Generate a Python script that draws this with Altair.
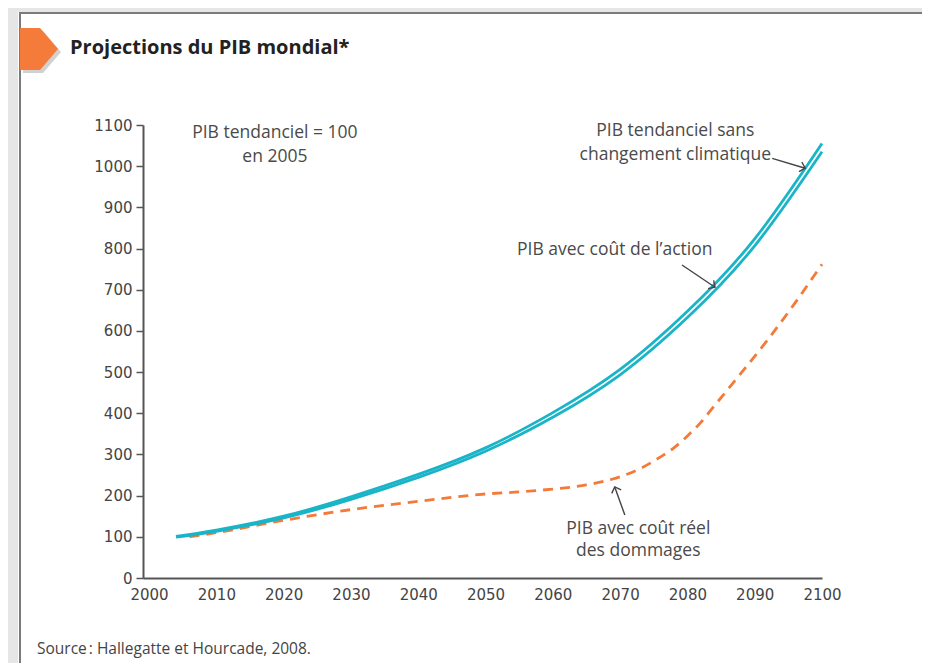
import altair as alt
import pandas as pd

# ---------------- data ----------------
years = [2004, 2010, 2020, 2030, 2040, 2050, 2060, 2070, 2080, 2090, 2100]
pib_sans_cc = [101, 116.5, 150, 197, 251.5, 316, 401.5, 506.5, 647.5, 823.5, 1055]
pib_action = [99, 113.5, 146, 191, 244.5, 308, 390.5, 493.5, 632.5, 806.5, 1035]

dmg_years = [2006, 2010, 2020, 2030, 2040, 2050, 2055, 2060, 2065, 2070, 2073, 2076,
             2078, 2080, 2082, 2084, 2088, 2092, 2096, 2100]
pib_dommages = [100, 110, 140, 166, 186, 204, 209, 216, 226, 246, 266, 294,
                316, 345, 378, 418, 498, 580, 668, 762]

x_ticks = list(range(2000, 2101, 10))
y_ticks = list(range(0, 1101, 100))

# annotations (data coordinates)
label_text = ["PIB tendanciel = 100", "en 2005",
              "PIB tendanciel sans", "changement climatique",
              "PIB avec coût de l\u2019action",
              "PIB avec coût réel", "des dommages"]
label_x = [2018.7, 2018.7, 2078.2, 2078.2, 2069.2, 2072.7, 2072.7]
label_y = [1080, 1022, 1085, 1027, 796, 119, 66]

arrow_x0 = [2092.6, 2079.2, 2070.7]
arrow_y0 = [1019, 760, 153]
arrow_x1 = [2097.5, 2084.1, 2069.2]
arrow_y1 = [995, 706, 221]
arrow_angle = [107, 124, 340]

TEAL = "#19b4c8"
ORANGE = "#f47a3a"
TXT = "#4a4a4a"
FONT = "Open Sans"

W, H = 679, 453
xs = alt.Scale(domain=[1999.1, 2100], nice=False, zero=False)
ys = alt.Scale(domain=[0, 1100], nice=False)


def X(field):
    return alt.X(field, type="quantitative", scale=xs,
                 axis=alt.Axis(values=x_ticks, format="d", title=None, grid=False,
                               ticks=False, labelPadding=9))


def Y(field):
    return alt.Y(field, type="quantitative", scale=ys,
                 axis=alt.Axis(values=y_ticks, format="d", title=None, grid=False,
                               ticks=True, tickSize=7, labelPadding=4))


df_a = pd.DataFrame({"annee": years, "pib": pib_sans_cc})
df_b = pd.DataFrame({"annee": years, "pib": pib_action})
df_c = pd.DataFrame({"annee": dmg_years, "pib": pib_dommages})
df_lab = pd.DataFrame({"x": label_x, "y": label_y, "t": label_text})
df_arr = pd.DataFrame({"x0": arrow_x0, "y0": arrow_y0, "x1": arrow_x1,
                       "y1": arrow_y1, "ang": arrow_angle})
one = pd.DataFrame({"a": [0]})

# ---------------- decorations (frame, title marker) ----------------
frame_top = alt.Chart(one).mark_rect(color="#e6e6e6").encode(
    x=alt.value(-135), x2=alt.value(779), y=alt.value(-117), y2=alt.value(-113))
frame_left = alt.Chart(one).mark_rect(color="#e6e6e6").encode(
    x=alt.value(-135), x2=alt.value(-125), y=alt.value(-117), y2=alt.value(538))
line_top = alt.Chart(one).mark_rect(color="#7a7a7a").encode(
    x=alt.value(-124), x2=alt.value(779), y=alt.value(-113), y2=alt.value(-111))
line_left = alt.Chart(one).mark_rect(color="#7a7a7a").encode(
    x=alt.value(-124), x2=alt.value(-122), y=alt.value(-113), y2=alt.value(538))

PENT = "M -0.905 -1 L 0.05 -1 L 0.905 0 L 0.05 1 L -0.905 1 Z"
marker_shadow = alt.Chart(one).mark_point(shape=PENT, filled=True, color="#9a9a9a",
                                          opacity=0.45, size=1764, strokeWidth=0).encode(
    x=alt.value(-101), y=alt.value(-73))
marker = alt.Chart(one).mark_point(shape=PENT, filled=True, color="#f47b3a",
                                   opacity=1, size=1764, strokeWidth=0).encode(
    x=alt.value(-104), y=alt.value(-76))

title = alt.Chart(one).mark_text(align="left", baseline="middle", font=FONT,
                                 fontWeight="bold", fontSize=20, color="#222222").encode(
    x=alt.value(-73), y=alt.value(-77), text=alt.value("Projections du PIB mondial*"))

source = alt.Chart(one).mark_text(align="left", baseline="middle", font=FONT,
                                  fontSize=15.5, color="#444444").encode(
    x=alt.value(-106), y=alt.value(524),
    text=alt.value("Source\u202f: Hallegatte et Hourcade, 2008."))

# ---------------- data layers ----------------
line_a = alt.Chart(df_a).mark_line(color=TEAL, strokeWidth=2.8, interpolate="natural").encode(
    x=X("annee"), y=Y("pib"))
line_b = alt.Chart(df_b).mark_line(color=TEAL, strokeWidth=2.8, interpolate="natural").encode(
    x=X("annee"), y=Y("pib"))
line_c = alt.Chart(df_c).mark_line(color=ORANGE, strokeWidth=2.8, strokeDash=[10, 7],
                                   interpolate="monotone").encode(
    x=X("annee"), y=Y("pib"))

labels = alt.Chart(df_lab).mark_text(align="center", baseline="middle", font=FONT,
                                     fontSize=17.5, color=TXT).encode(
    x=X("x"), y=Y("y"), text="t:N")

arrows = alt.Chart(df_arr).mark_rule(color="#444444", strokeWidth=1.4).encode(
    x=X("x0"), y=Y("y0"), x2="x1:Q", y2="y1:Q")
heads = alt.Chart(df_arr).mark_point(shape="M -1 1 L 0 0 L 1 1", filled=False,
                                     color="#444444", strokeWidth=1.4, size=100,
                                     opacity=1).encode(
    x=X("x1"), y=Y("y1"), angle=alt.Angle("ang:Q", scale=None))

chart = alt.layer(
    frame_top, frame_left, line_top, line_left, marker_shadow, marker, title, source,
    line_c, line_b, line_a, labels, arrows, heads
).properties(
    width=W, height=H,
    padding={"left": 135, "top": 117, "right": 100, "bottom": 85},
    autosize=alt.AutoSizeParams(type="none"),
).configure_view(stroke=None).configure_axis(
    domainColor="#555555", domainWidth=2, tickColor="#555555", tickWidth=1.5,
    labelFont="DejaVu Sans", labelFontSize=15, labelColor="#444444",
).configure_axisX(labelAlign="center")

chart.save("out.html", embed_options={"renderer": "svg", "actions": False})
